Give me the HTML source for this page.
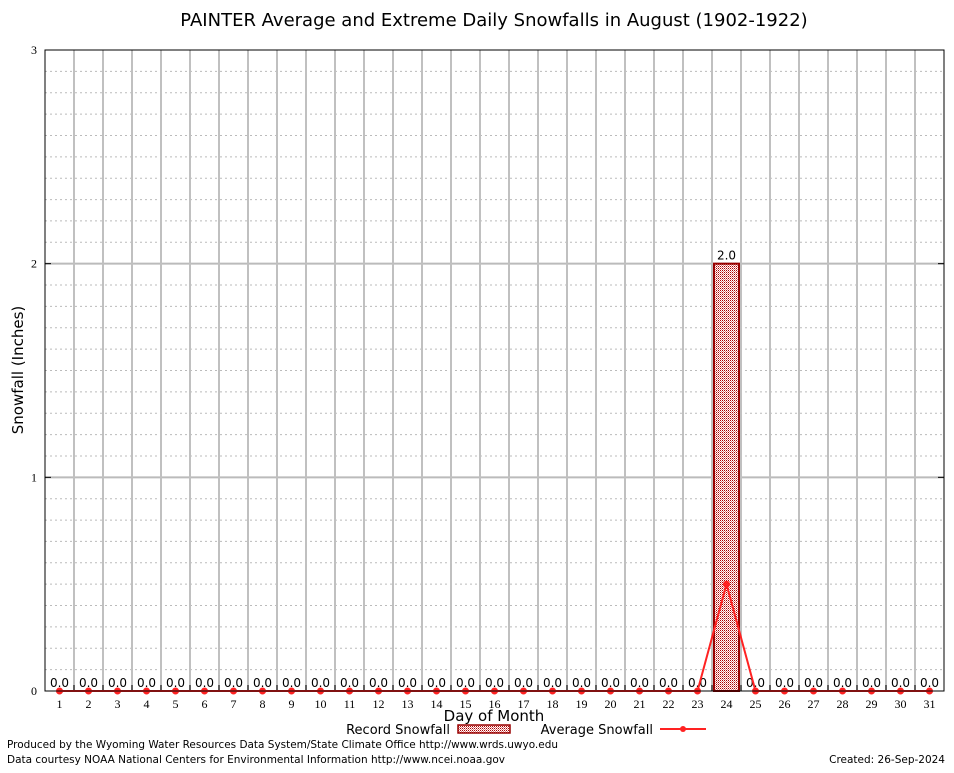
<!DOCTYPE html>
<html><head><meta charset="utf-8"><style>
body{margin:0;background:#fff;}
svg text{font-family:"DejaVu Sans","Liberation Sans",sans-serif;}
</style></head><body>
<svg id="chart" width="954" height="768" xmlns="http://www.w3.org/2000/svg">
<defs><pattern id="hatch" width="2" height="2" patternUnits="userSpaceOnUse"><rect width="2" height="2" fill="#fff"/><rect width="1" height="1" fill="#a00"/><rect x="1" y="1" width="1" height="1" fill="#e08080"/></pattern></defs>
<rect width="954" height="768" fill="#fff"/>
<text x="494" y="26" text-anchor="middle" font-size="18">PAINTER Average and Extreme Daily Snowfalls in August (1902-1922)</text>
<g id="grid"></g><g id="marks"></g>
<rect x="45" y="50" width="899" height="641" fill="none" stroke="#000" stroke-width="1"/>
<text transform="translate(23,370) rotate(-90)" text-anchor="middle" font-size="15">Snowfall (Inches)</text>
<text x="494" y="721" text-anchor="middle" font-size="15">Day of Month</text>
<g>
<text x="450" y="734" text-anchor="end" font-size="13">Record Snowfall</text>
<rect x="458" y="725" width="52" height="8" fill="url(#hatch)" stroke="#900" stroke-width="1.5"/>
<text x="653" y="734" text-anchor="end" font-size="13">Average Snowfall</text>
<line x1="660" y1="729" x2="706" y2="729" stroke="#f22" stroke-width="2"/>
<circle cx="683" cy="729" r="3" fill="#f22"/>
</g>
<text x="7" y="748" font-size="10.5" textLength="551" lengthAdjust="spacingAndGlyphs">Produced by the Wyoming Water Resources Data System/State Climate Office http://www.wrds.uwyo.edu</text>
<text x="7" y="763" font-size="10.5" textLength="498" lengthAdjust="spacingAndGlyphs">Data courtesy NOAA National Centers for Environmental Information http://www.ncei.noaa.gov</text>
<text x="945" y="763" text-anchor="end" font-size="10.5">Created: 26-Sep-2024</text>
</svg>
<script>
const days=[1,2,3,4,5,6,7,8,9,10,11,12,13,14,15,16,17,18,19,20,21,22,23,24,25,26,27,28,29,30,31];
const recordSnow=[0,0,0,0,0,0,0,0,0,0,0,0,0,0,0,0,0,0,0,0,0,0,0,2.0,0,0,0,0,0,0,0];
const avgSnow=[0,0,0,0,0,0,0,0,0,0,0,0,0,0,0,0,0,0,0,0,0,0,0,0.5,0,0,0,0,0,0,0];
const yTicks=[0,1,2,3];
const NS="http://www.w3.org/2000/svg";
const L=45,R=944,T=50,B=691,yMax=3,n=31;
const bw=(R-L)/n;
const x=d=>L+(d-0.5)*bw;
const y=v=>B-(v/yMax)*(B-T);
function mk(tag,attrs,parent,txt){const e=document.createElementNS(NS,tag);for(const k in attrs)e.setAttribute(k,attrs[k]);if(txt!==undefined)e.textContent=txt;parent.appendChild(e);return e;}
const grid=document.getElementById('grid'),marks=document.getElementById('marks');
for(let v=0.1;v<yMax-0.01;v+=0.1){if(Math.abs(v-Math.round(v))<0.01)continue;
 const g=mk('line',{x1:L,x2:R,y1:y(v),y2:y(v),stroke:'#bbb','stroke-dasharray':'2,3','stroke-width':1},grid);
 }
yTicks.forEach(t=>{
 if(t>0&&t<yMax){const g=mk('line',{x1:L,x2:R,y1:y(t),y2:y(t),stroke:'#bbb','stroke-width':2},grid);
 }
 const tk=mk('line',{x1:L,x2:L+6,y1:y(t),y2:y(t),stroke:'#000'},grid);
 
 const tk2=mk('line',{x1:R-6,x2:R,y1:y(t),y2:y(t),stroke:'#000'},grid);
 
 const lb=mk('text',{x:L-8,y:y(t)+4,'text-anchor':'end','font-size':12,style:'font-family:"Liberation Serif",serif'},grid,String(t));
 
});
for(let i=1;i<n;i++){const gx=L+i*bw;
 const g=mk('line',{x1:gx,x2:gx,y1:T,y2:B,stroke:'#c0c0c0','stroke-width':2},grid);
 
 const tk=mk('line',{x1:gx,x2:gx,y1:B-6,y2:B,stroke:'#000'},grid);
 }
days.forEach((d,i)=>{
 const lb=mk('text',{x:x(d),y:B+17,'text-anchor':'middle','font-size':12,style:'font-family:"Liberation Serif",serif'},grid,String(d));
 
 const v=recordSnow[i];
 if(v>0){const b=mk('rect',{x:x(d)-bw/2+2,y:y(v),width:bw-4,height:B-y(v),fill:'url(#hatch)',stroke:'#900','stroke-width':2},marks);
  }
 const t=mk('text',{x:x(d),y:y(v)-4,'text-anchor':'middle','font-size':12},marks,v.toFixed(1));
 
});
const pts=days.map((d,i)=>x(d)+','+y(avgSnow[i])).join(' ');
const pl=mk('polyline',{points:pts,fill:'none',stroke:'#f22','stroke-width':2},marks);

days.forEach((d,i)=>{const c=mk('circle',{cx:x(d),cy:y(avgSnow[i]),r:3.5,fill:'#f22'},marks);
 });
</script>
</body></html>
